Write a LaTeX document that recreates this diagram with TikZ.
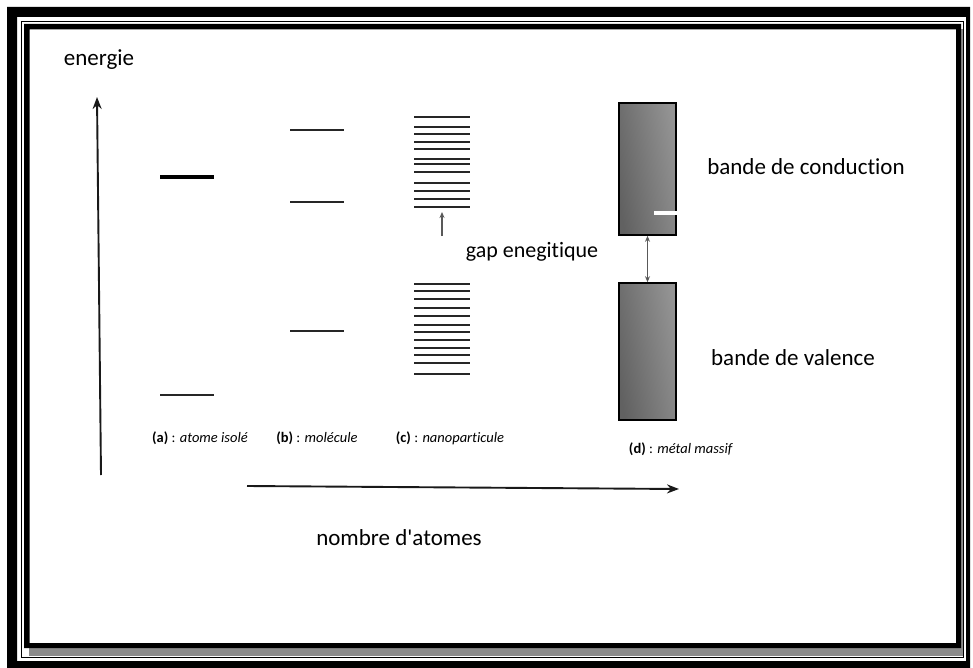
\documentclass[tikz,border=0pt]{standalone}
\usepackage{fontspec}
\setmainfont{Carlito}[Ligatures={TeXOff,NoCommon}]
\usetikzlibrary{arrows.meta}

\begin{document}
\begin{tikzpicture}[x=1pt, y=-1pt,
        level/.style={draw=black!85, line width=1.8pt},
        biglevel/.style={draw=black, line width=4.5pt},
        axis/.style={draw=black!90, line width=1.9pt, -{Stealth[length=12pt, width=9pt]}},
        smallarrow/.style={draw=black!65, line width=1.4pt, -{Stealth[length=6pt, width=5pt]}},
        band/.style={rectangle, draw=black, line width=1.6pt, inner sep=0pt, minimum width=57pt,
            left color=black!62, middle color=black!82, right color=black!42, shading angle=100},
        bigtext/.style={font=\fontsize{23}{26}\selectfont},
        smalltext/.style={font=\fontsize{14.5}{16}\selectfont},
    ]
    \useasboundingbox (0,0) rectangle (973,668);

    %Frame: page border
    \fill[black, even odd rule] (7,7) rectangle (970,668) (17,17) rectangle (966,661);
    \draw[black, line width=1.5pt] (21.5,21.5) rectangle (963.5,657.5);
    \fill[black!45] (29,648) rectangle (963,656);
    \fill[black!45] (961,29) rectangle (963,656);
    \fill[black, even odd rule] (24,24) rectangle (961,648) (29.5,29.5) rectangle (956,643);

    %Axes
    \coordinate (energy_foot) at (101,475);
    \coordinate (energy_head) at (97,97);
    \coordinate (atoms_foot)  at (247,486);
    \coordinate (atoms_head)  at (679,489);
    \draw[axis] (energy_foot) -- (energy_head);
    \draw[axis] (atoms_foot) -- (atoms_head);

    \node[bigtext] (energie) at (99,60)  {energie};
    \node[bigtext] (nombre)  at (399,538) {nombre d'atomes};

    %Levels: (a) atome isole
    \draw[biglevel] (160,177) -- (214,177);
    \draw[level]    (160,395) -- (214,395);

    %Levels: (b) molecule
    \foreach \y in {130,202,331}
        \draw[level] (290,\y) -- (344,\y);

    %Levels: (c) nanoparticule
    \foreach \y in {116.7,126.7,134,142,149.3,158.7,164,172,183.3,190.7,198.7,206.7}
        \draw[level] (414,\y) -- (470,\y);
    \foreach \y in {284,291.3,298.7,307.7,315.7,324.7,332.3,340,347.7,355.3,363,374.3}
        \draw[level] (414,\y) -- (470,\y);

    \coordinate (gap_foot) at (442,236);
    \coordinate (gap_head) at (442,212);
    \draw[smallarrow] (gap_foot) -- (gap_head);
    \node[font=\fontsize{22}{25}\selectfont] (gap) at (532,252) {gap enegitique};

    %Bands: (d) metal massif
    \node[band, minimum height=132pt] (conduction) at (647.5,169)   {};
    \node[band, minimum height=137pt] (valence)    at (647.5,351.5) {};
    \draw[white, line width=4pt] (654,213) -- (677.5,213);
    \draw[smallarrow, {Stealth[length=6pt, width=5pt]}-{Stealth[length=6pt, width=5pt]}]
        (conduction.south) -- (valence.north);

    \node[bigtext] (conduction_label) at (806,167) {bande de conduction};
    \node[bigtext] (valence_label)    at (793,358) {bande de valence};

    %Labels: (a) to (d)
    \node[smalltext] (label_a) at (200,438) {\textbf{(a)} : \textit{atome isolé}};
    \node[smalltext] (label_b) at (317,438) {\textbf{(b)} : \textit{molécule}};
    \node[smalltext] (label_c) at (450,438) {\textbf{(c)} : \textit{nanoparticule}};
    \node[smalltext] (label_d) at (681,449) {\textbf{(d)} : \textit{métal massif}};
\end{tikzpicture}
\end{document}
